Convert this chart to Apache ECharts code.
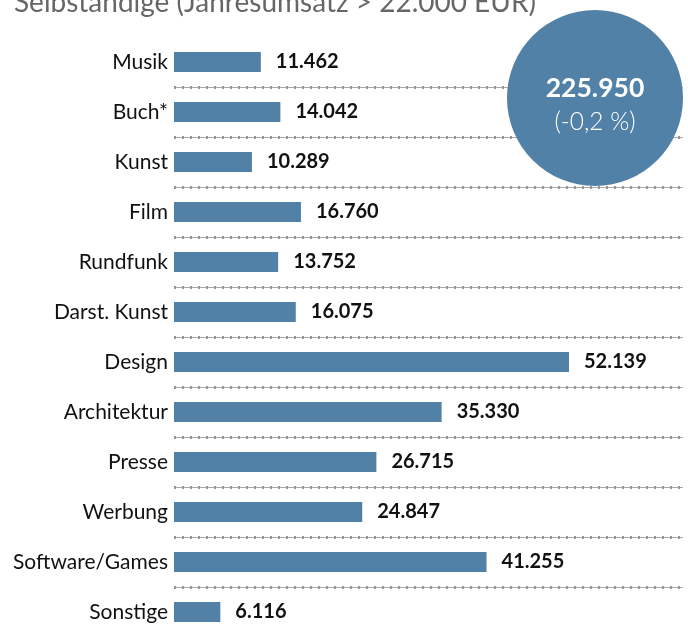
<!DOCTYPE html>
<html><head><meta charset="utf-8">
<script src="https://cdn.jsdelivr.net/npm/echarts@6/dist/echarts.min.js"></script>
<style>html,body{margin:0;padding:0;background:#fff;overflow:hidden}#c{width:688px;height:700px}</style>
</head><body><div id="c"></div>
<script>
const categories = ['Musik','Buch*','Kunst','Film','Rundfunk','Darst. Kunst','Design','Architektur','Presse','Werbung','Software/Games','Sonstige'];
const values = [11462,14042,10289,16760,13752,16075,52139,35330,26715,24847,41255,6116];
const titleText = 'Selbständige (Jahresumsatz > 22.000 EUR)';
const totalText = '225.950';
const changeText = '(-0,2 %)';

const fmt = v => v.toLocaleString('de-DE');
const chart = echarts.init(document.getElementById('c'));
const FONT = 'Lato';
chart.setOption({
  animation: false,
  grid: {left: 174, top: 37, width: 509, height: 600, containLabel: false},
  xAxis: {type: 'value', min: 0, max: 67190, show: false},
  yAxis: [{
    type: 'category', data: categories, inverse: true,
    axisLine: {show: false}, axisTick: {show: false},
    axisLabel: {color: '#111', fontSize: 21, fontFamily: FONT, margin: 6},
    splitLine: {show: true, interval: (i) => i !== 0, lineStyle: {color: '#a8a8a8', width: 1}}
  },{
    type: 'category', data: categories, inverse: true, position: 'left',
    axisLine: {show: false}, axisTick: {show: false}, axisLabel: {show: false},
    splitLine: {show: true, interval: (i) => i !== 0, lineStyle: {color: '#959595', width: 3, type: [2, 6]}}
  }],
  series: [{
    type: 'bar', data: values, barWidth: 20,
    itemStyle: {color: '#5281a7'},
    label: {show: true, position: 'right', distance: 15, formatter: p => fmt(p.value),
      color: '#111', fontWeight: 'bold', fontSize: 20, fontFamily: FONT}
  }],
  graphic: [
    {type: 'text', left: 14, top: -11, style: {text: titleText, fill: '#666', fontSize: 28, fontFamily: FONT}},
    {type: 'circle', shape: {cx: 595, cy: 98, r: 88}, style: {fill: '#5281a7'}, z: 10},
    {type: 'text', x: 595, y: 88, z: 11, style: {text: totalText, fill: '#fff', fontSize: 26.5, fontWeight: 'bold', fontFamily: FONT, align: 'center', verticalAlign: 'middle'}},
    {type: 'text', x: 595, y: 122, z: 11, style: {text: changeText, fill: '#fff', fontSize: 24.5, fontWeight: 300, fontFamily: FONT, align: 'center', verticalAlign: 'middle'}}
  ]
});
</script></body></html>
